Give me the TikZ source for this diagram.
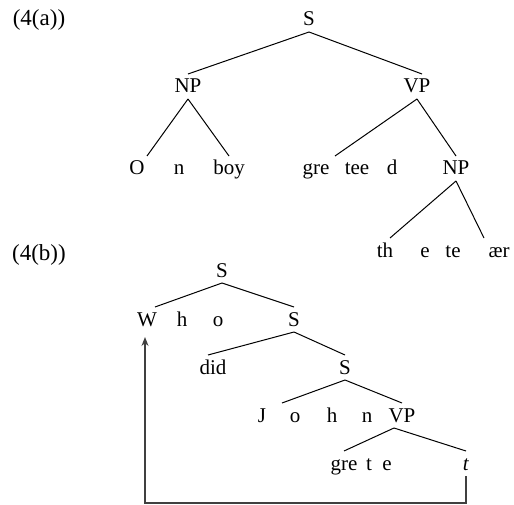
\documentclass[tikz,border=0pt]{standalone}
\usepackage{fontspec}
\setmainfont{Liberation Serif}
\usetikzlibrary{arrows.meta}
\begin{document}
\begin{tikzpicture}[x=1pt,y=-1pt,
  lab/.style={anchor=base, inner sep=0pt, text height=13pt, text depth=0pt,
    outer xsep=0pt, outer ysep=6pt, font=\fontsize{21}{25}\selectfont},
  exlab/.style={lab, font=\fontsize{23}{27}\selectfont},
  edge/.style={line width=1pt, black},
  mv/.style={line width=1.3pt, black!75, -{Stealth[length=9pt,width=7pt]}}]
\useasboundingbox (0,0) rectangle (514,505);
% labels
\node[exlab] (la) at (39,26) {(4(a))};
\node[exlab] (lb) at (39,261) {(4(b))};
% tree (a)
\node[lab] (S1) at (309,26) {S};
\node[lab] (NP1) at (188,93) {NP};
\node[lab] (VP1) at (417,93) {VP};
\node[lab] (O) at (137,175) {O};
\node[lab] (n1) at (179,175) {n};
\node[lab] (boy) at (229,175) {boy};
\node[lab] (gre) at (316,175) {gre};
\node[lab] (tee) at (357,175) {tee};
\node[lab] (d) at (392,175) {d};
\node[lab] (NP2) at (456,175) {NP};
\node[lab] (th) at (385,257) {th};
\node[lab] (e1) at (425,257) {e};
\node[lab] (te) at (453,257) {te};
\node[lab] (aer) at (499,257) {ær};
\draw[edge] (S1.south) -- (NP1.north);
\draw[edge] (S1.south) -- ([xshift=5pt]VP1.north);
\draw[edge] (NP1.south) -- ([xshift=10pt]O.north);
\draw[edge] (NP1.south) -- (boy.north);
\draw[edge] (VP1.south) -- ([xshift=19pt]gre.north);
\draw[edge] (VP1.south) -- (NP2.north);
\draw[edge] (NP2.south) -- ([xshift=5pt]th.north);
\draw[edge] (NP2.south) -- ([xshift=-15pt]aer.north);
% tree (b)
\node[lab] (S4) at (222,277) {S};
\node[lab] (W) at (147,326) {W};
\node[lab] (h1) at (182,326) {h};
\node[lab] (o1) at (218,326) {o};
\node[lab] (S5) at (294,326) {S};
\node[lab] (did) at (213,374) {did};
\node[lab] (S6) at (345,374) {S};
\node[lab] (J) at (262,422) {J};
\node[lab] (o2) at (295,422) {o};
\node[lab] (h2) at (332,422) {h};
\node[lab] (n2) at (367,422) {n};
\node[lab] (VP2) at (402,422) {VP};
\node[lab] (gre2) at (344,470) {gre};
\node[lab] (t1) at (369,470) {t};
\node[lab] (e2) at (387,470) {e};
\node[lab] (tt) at (466,470) {\textit{t}};
\draw[edge] (S4.south) -- ([xshift=8pt]W.north);
\draw[edge] (S4.south) -- (S5.north);
\draw[edge] (S5.south) -- ([xshift=-5pt]did.north);
\draw[edge] (S5.south) -- (S6.north);
\draw[edge] (S6.south) -- ([xshift=20pt]J.north);
\draw[edge] (S6.south) -- (VP2.north);
\draw[edge] ([xshift=-8pt]VP2.south) -- (gre2.north);
\draw[edge] ([xshift=-8pt]VP2.south) -- (tt.north);
% movement arrow
\coordinate (corner) at (466,503);
\draw[mv] (tt.south) -- (tt.south |- corner) -| ([xshift=-2pt,yshift=-5pt]W.south);
\end{tikzpicture}
\end{document}
